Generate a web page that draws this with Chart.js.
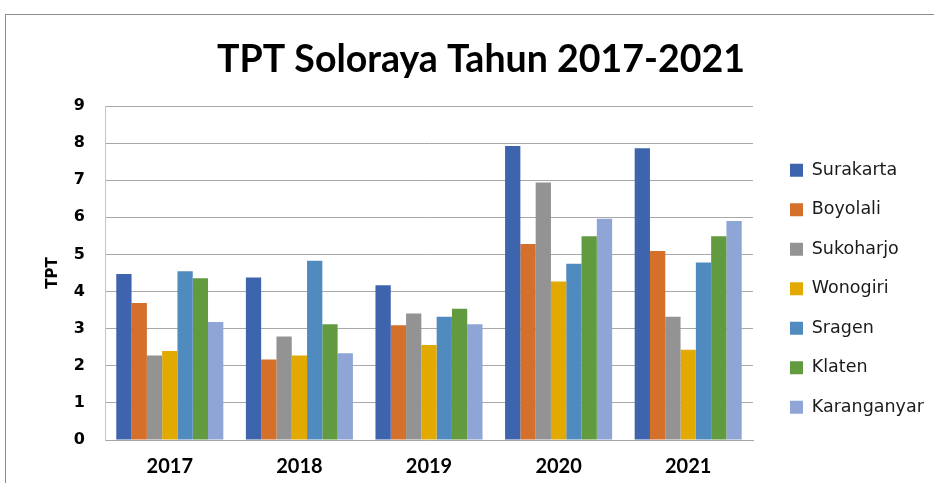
<!DOCTYPE html>
<html>
<head>
<meta charset="utf-8">
<script src="https://cdn.jsdelivr.net/npm/chart.js@4/dist/chart.umd.min.js"></script>
<style>
  html, body { margin: 0; padding: 0; background: #ffffff; }
  #wrap { position: relative; width: 934px; height: 483px; overflow: hidden; background: #fff; }
  #frame { position: absolute; left: 5px; top: 14px; width: 960px; height: 500px;
           border-top: 1px solid #8c8c8c; border-left: 1px solid #8c8c8c; }
  #c { position: absolute; left: 0; top: 0; }
</style>
</head>
<body>
<div id="wrap">
  <div id="frame"></div>
  <canvas id="c" width="934" height="483"></canvas>
</div>
<script>
const categories = ['2017', '2018', '2019', '2020', '2021'];
const seriesNames = ['Surakarta', 'Boyolali', 'Sukoharjo', 'Wonogiri', 'Sragen', 'Klaten', 'Karanganyar'];
const surakarta   = [4.47, 4.38, 4.17, 7.92, 7.86];
const boyolali    = [3.69, 2.17, 3.09, 5.28, 5.09];
const sukoharjo   = [2.28, 2.79, 3.41, 6.94, 3.32];
const wonogiri    = [2.40, 2.28, 2.56, 4.27, 2.43];
const sragen      = [4.55, 4.83, 3.32, 4.75, 4.78];
const klaten      = [4.36, 3.12, 3.54, 5.49, 5.49];
const karanganyar = [3.18, 2.34, 3.12, 5.96, 5.90];
const yTicks = [0, 1, 2, 3, 4, 5, 6, 7, 8, 9];
const titleText = 'TPT Soloraya Tahun 2017-2021';
const yTitle = 'TPT';

const seriesValues = [surakarta, boyolali, sukoharjo, wonogiri, sragen, klaten, karanganyar];
const colors = ['#3e64ae', '#d46f2c', '#939393', '#e2aa00', '#508bbf', '#629a40', '#8fa5d6'];

const layoutFix = {
  id: 'layoutFix',
  beforeLayout(chart) {
    const lg = chart.legend;
    if (lg && !lg._fixWrapped) {
      const f = lg.fit;
      lg.fit = function () { f.call(this); this.width = 181; };
      lg._fixWrapped = true;
    }
  },
  afterLayout(chart) {
    const lg = chart.legend;
    if (lg) {
      lg.left = 768; lg.right = 934;
      lg.top = 139.5; lg.bottom = 483;
    }
  }
};

new Chart(document.getElementById('c'), {
  type: 'bar',
  data: {
    labels: categories,
    datasets: seriesNames.map((name, i) => ({
      label: name,
      data: seriesValues[i],
      backgroundColor: colors[i],
      borderWidth: 0,
      barPercentage: 1.0,
      categoryPercentage: 0.826
    }))
  },
  options: {
    responsive: false,
    animation: false,
    devicePixelRatio: 1,
    layout: { padding: { left: 28, right: 0, top: 0, bottom: 0 } },
    plugins: {
      title: {
        display: true,
        text: titleText,
        color: '#000000',
        font: { family: 'Lato', weight: 'bold', size: 37.5, lineHeight: 1.2 },
        padding: { top: 37, bottom: 24 }
      },
      legend: {
        display: true,
        position: 'right',
        align: 'start',
        labels: {
          boxWidth: 13,
          boxHeight: 13,
          padding: 22,
          color: '#1a1a1a',
          font: { family: 'DejaVu Sans', size: 17.5 }
        }
      },
      tooltip: { enabled: false }
    },
    scales: {
      x: {
        grid: { display: false, drawTicks: false },
        border: { display: true, color: '#a6a6a6', width: 1 },
        ticks: {
          color: '#000000',
          padding: 15,
          font: { family: 'Lato', weight: 'bold', size: 20 }
        },
        afterFit(scale) { scale.height = 43; }
      },
      y: {
        min: 0,
        max: 9,
        afterBuildTicks(scale) { scale.ticks = yTicks.map(v => ({ value: v })); },
        grid: { color: '#a8a8a8', lineWidth: 1, drawTicks: false },
        border: { display: true, color: '#c4c4c4', width: 1 },
        ticks: {
          color: '#000000',
          padding: 20,
          font: { family: 'DejaVu Sans', weight: 'bold', size: 16 }
        },
        title: {
          display: true,
          text: yTitle,
          color: '#000000',
          font: { family: 'DejaVu Sans', weight: 'bold', size: 15, lineHeight: 1.2 },
          padding: { top: 16, bottom: 0 }
        },
        afterFit(scale) { scale.width = 77; }
      }
    }
  },
  plugins: [layoutFix]
});
</script>
</body>
</html>
